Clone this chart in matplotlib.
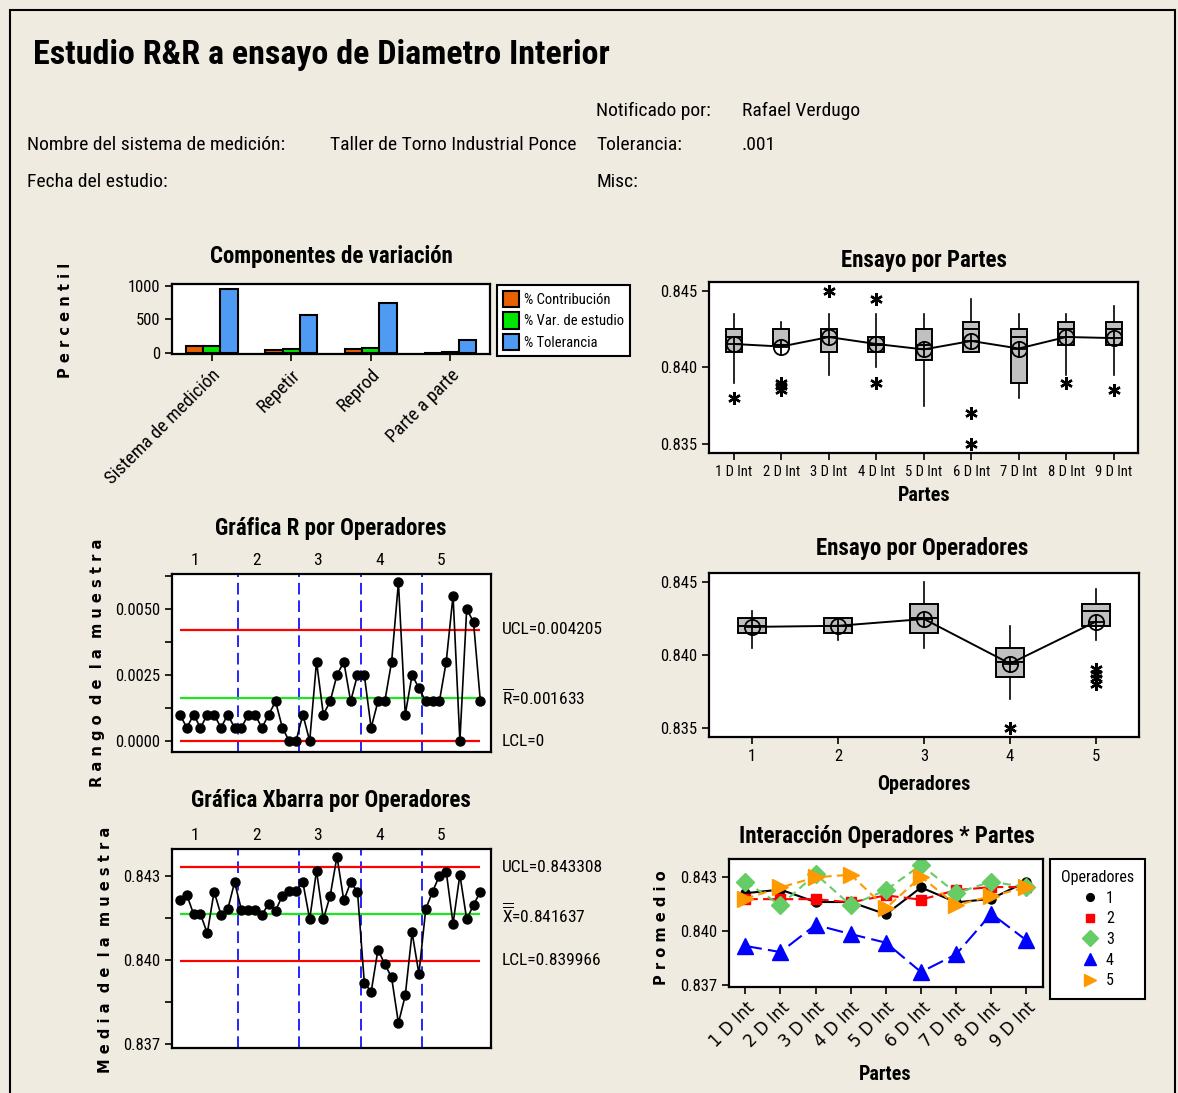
import numpy as np
import matplotlib
matplotlib.use("Agg")
import matplotlib.pyplot as plt
from matplotlib import font_manager as fm
from matplotlib.lines import Line2D
from matplotlib.patches import Patch, Rectangle

W, H = 1178, 1093
BG = "#EFEBE1"

# ---- data ----
comp_labels = ["Sistema de medición", "Repetir", "Reprod", "Parte a parte"]
pct_contrib = [100.0, 38.0, 62.0, 3.0]
pct_studyvar = [100.0, 62.0, 79.0, 17.0]
pct_tol = [955, 570, 750, 195]

part_labels = ["1 D Int", "2 D Int", "3 D Int", "4 D Int", "5 D Int",
               "6 D Int", "7 D Int", "8 D Int", "9 D Int"]
operators = ["1", "2", "3", "4", "5"]

# sample ranges, operator x part (3 readings each)
r_op1 = [0.001, 0.0005, 0.001, 0.0005, 0.001, 0.001, 0.0005, 0.001, 0.0005]
r_op2 = [0.0005, 0.001, 0.001, 0.0005, 0.001, 0.0015, 0.0005, 0.0, 0.0]
r_op3 = [0.001, 0.0, 0.003, 0.001, 0.0015, 0.0025, 0.003, 0.0015, 0.0025]
r_op4 = [0.0025, 0.0005, 0.0015, 0.0015, 0.003, 0.006, 0.001, 0.0025, 0.002]
r_op5 = [0.0015, 0.0015, 0.0015, 0.003, 0.0055, 0.0, 0.005, 0.0045, 0.0015]

# sample means, operator x part
xb_op1 = [0.84212, 0.84232, 0.84163, 0.84163, 0.84095, 0.84244, 0.84161, 0.84181, 0.84277]
xb_op2 = [0.84179, 0.84179, 0.84179, 0.84161, 0.84200, 0.84176, 0.84229, 0.84246, 0.84246]
xb_op3 = [0.84277, 0.84145, 0.84318, 0.84145, 0.84229, 0.84369, 0.84212, 0.84277, 0.84244]
xb_op4 = [0.83919, 0.83885, 0.84036, 0.83985, 0.83937, 0.83774, 0.83873, 0.84098, 0.83950]
xb_op5 = [0.84181, 0.84244, 0.84300, 0.84315, 0.84129, 0.84304, 0.84145, 0.84196, 0.84244]

R_UCL, R_BAR, R_LCL = 0.004205, 0.001633, 0.0
X_UCL, X_BAR, X_LCL = 0.843308, 0.841637, 0.839966

# box plot summaries by part
p_q1 = [0.841, 0.8415, 0.841, 0.841, 0.8405, 0.841, 0.839, 0.8415, 0.8415]
p_med = [0.842, 0.8415, 0.842, 0.8415, 0.8415, 0.8425, 0.842, 0.8425, 0.8425]
p_q3 = [0.8425, 0.8425, 0.8425, 0.842, 0.8425, 0.843, 0.8425, 0.843, 0.843]
p_wlo = [0.839, 0.8415, 0.8395, 0.840, 0.8375, 0.841, 0.838, 0.8395, 0.8395]
p_whi = [0.8435, 0.843, 0.8435, 0.8435, 0.8435, 0.8445, 0.8435, 0.8435, 0.844]
p_out = [[0.838], [0.839, 0.8388, 0.8385], [0.845], [0.8445, 0.839], [],
         [0.837, 0.835], [], [0.839], [0.8385]]

# box plot summaries by operator
o_q1 = [0.8415, 0.8415, 0.8415, 0.8385, 0.842]
o_med = [0.842, 0.842, 0.8425, 0.8395, 0.843]
o_q3 = [0.8425, 0.8425, 0.8435, 0.8405, 0.8435]
o_wlo = [0.8405, 0.841, 0.8405, 0.837, 0.841]
o_whi = [0.843, 0.8425, 0.845, 0.842, 0.8445]
o_out = [[], [], [], [0.835], [0.839, 0.8387, 0.8384, 0.838]]


def pick_font(names):
    for n in names:
        try:
            fm.findfont(fm.FontProperties(family=n), fallback_to_default=False)
            return n
        except ValueError:
            continue
    return "DejaVu Sans"


NARROW = pick_font(["Liberation Sans Narrow", "Roboto Condensed", "Liberation Sans"])
plt.rcParams.update({
    "font.family": [NARROW, "DejaVu Sans"],
    "mathtext.fontset": "custom",
    "mathtext.rm": NARROW,
    "axes.linewidth": 1.6,
    "xtick.major.width": 1.2, "ytick.major.width": 1.2,
    "ytick.minor.width": 1.2,
    "xtick.major.size": 5, "ytick.major.size": 5, "ytick.minor.size": 5,
    "xtick.labelsize": 12, "ytick.labelsize": 12,
})


def rect(l, t, r, b):
    return [l / W, 1 - b / H, (r - l) / W, (b - t) / H]


def ftext(x, y, s, **kw):
    kw.setdefault("va", "center")
    fig.text(x / W, 1 - y / H, s, **kw)


def spaced(s):
    return "  ".join(" ".join(w) for w in s.split())


fig = plt.figure(figsize=(W / 100, H / 100), dpi=100, facecolor=BG)
fig.patches.append(Rectangle((10 / W, -0.01), (1175 - 10) / W, 1.01 - 10 / H,
                             transform=fig.transFigure, fill=False, ec="k", lw=1.5))

# ---- header ----
ftext(33, 55, "Estudio R&R a ensayo de Diametro Interior", fontsize=24.5, fontweight="bold")
ftext(596, 111, "Notificado por:", fontsize=14)
ftext(742, 111, "Rafael Verdugo", fontsize=14)
ftext(27, 145, "Nombre del sistema de medición:", fontsize=14)
ftext(330, 145, "Taller de Torno Industrial Ponce", fontsize=14)
ftext(596, 145, "Tolerancia:", fontsize=14)
ftext(742, 145, ".001", fontsize=14)
ftext(27, 182, "Fecha del estudio:", fontsize=14)
ftext(596, 182, "Misc:", fontsize=14)

ylab_kw = dict(family="DejaVu Sans", fontweight="bold", fontsize=10.5, rotation=90,
               ha="center", va="center")
title_kw = dict(ha="center", fontsize=16.5, fontweight="bold")

# ---- components of variation ----
ax = fig.add_axes(rect(172, 284, 490, 354))
xc = np.arange(len(comp_labels))
series = [(pct_contrib, "#E86100", "% Contribución"),
          (pct_studyvar, "#00E600", "% Var. de estudio"),
          (pct_tol, "#4F9BF3", "% Tolerancia")]
for i, (vals, col, lab) in enumerate(series):
    ax.bar(xc + (i - 1) * 0.22, vals, 0.22, color=col, edgecolor="k", lw=1.5, label=lab)
ax.set_xlim(-0.5, 3.5)
ax.set_ylim(-15, 1025)
ax.set_yticks([0, 500, 1000])
ax.set_xticks(xc)
ax.set_xticklabels(comp_labels, rotation=45, ha="right", rotation_mode="anchor",
                   fontsize=13.5)
ftext(331, 257, "Componentes de variación", **title_kw)
ftext(65, 320, spaced("Percentil"), **ylab_kw)
leg = fig.legend(handles=[Patch(fc=c, ec="k", lw=1.5, label=l) for _, c, l in series],
                 loc="upper left", bbox_to_anchor=(497 / W, 1 - 285 / H), fontsize=10.5,
                 frameon=True, fancybox=False, edgecolor="k", framealpha=1,
                 handlelength=1.1, handleheight=1.35, borderpad=0.4, labelspacing=0.35,
                 handletextpad=0.35, borderaxespad=0)
leg.get_frame().set_linewidth(1.5)

# ---- box plot helper ----
box_kw = dict(patch_artist=True, showcaps=False, widths=0.33,
              boxprops=dict(facecolor="#C0C0C0", edgecolor="k", lw=1.4),
              medianprops=dict(color="k", lw=1.4),
              whiskerprops=dict(color="k", lw=1.2),
              flierprops=dict(marker=(6, 2, 0), ms=9, mec="k", mew=1.7, ls="none"))


def draw_boxes(ax, q1, med, q3, wlo, whi, outs, means):
    stats = [dict(q1=a, med=b, q3=c, whislo=d, whishi=e, fliers=f)
             for a, b, c, d, e, f in zip(q1, med, q3, wlo, whi, outs)]
    pos = np.arange(1, len(stats) + 1)
    ax.bxp(stats, positions=pos, **box_kw)
    ax.plot(pos, means, color="k", lw=1.4, zorder=4)
    ax.plot(pos, means, "o", ms=11, mfc="none", mec="k", mew=1.3, zorder=5)
    ax.plot(pos, means, "+", ms=11, mec="k", mew=1.3, zorder=5)
    ax.set_xticks(pos)


xb = np.array([xb_op1, xb_op2, xb_op3, xb_op4, xb_op5])
rr = np.array([r_op1, r_op2, r_op3, r_op4, r_op5])

# ---- by part ----
ax = fig.add_axes(rect(709, 282, 1138, 453))
draw_boxes(ax, p_q1, p_med, p_q3, p_wlo, p_whi, p_out, xb.mean(axis=0))
ax.set_xticklabels(part_labels, fontsize=10.5)
ax.set_xlim(0.48, 9.51)
ax.set_ylim(0.83439, 0.8456)
ax.set_yticks([0.835, 0.840, 0.845])
ax.set_yticklabels(["0.835", "0.840", "0.845"])
ftext(924, 260, "Ensayo por Partes", **title_kw)
ftext(924, 496, "Partes", ha="center", fontsize=14.5, fontweight="bold")

# ---- by operator ----
ax = fig.add_axes(rect(709, 573, 1139, 737))
draw_boxes(ax, o_q1, o_med, o_q3, o_wlo, o_whi, o_out, xb.mean(axis=1))
ax.set_xticklabels(operators)
ax.set_xlim(0.5, 5.5)
ax.set_ylim(0.83436, 0.84562)
ax.set_yticks([0.835, 0.840, 0.845])
ax.set_yticklabels(["0.835", "0.840", "0.845"])
ftext(922, 548, "Ensayo por Operadores", **title_kw)
ftext(924, 784, "Operadores", ha="center", fontsize=14.5, fontweight="bold")


# ---- control charts ----
def control_chart(ax, vals, lines, texts):
    n = vals.size
    ax.plot(np.arange(n), vals, "-o", color="k", lw=1.2, ms=6.5, zorder=5)
    for y, col in lines:
        ax.hlines(y, 0, n - 1, color=col, lw=1.6, zorder=3)
    for k in range(1, 5):
        ax.axvline(k * 9 - 0.5, color="#0000FF", lw=1.2, ls=(0, (7, 3.5)), zorder=2)
    for k, op in enumerate(operators):
        ax.annotate(op, xy=(k * 9 + 2.2, 1), xycoords=("data", "axes fraction"),
                    xytext=(0, 4), textcoords="offset points", ha="center", va="bottom",
                    fontsize=12.5)
    for (y, _), s in zip(lines, texts):
        ax.annotate(s, xy=(1, y), xycoords=("axes fraction", "data"), xytext=(8, 0),
                    textcoords="offset points", ha="left", va="center", fontsize=12.5,
                    annotation_clip=False)
    ax.set_xlim(-1.17, 45.56)
    ax.set_xticks([])


ax = fig.add_axes(rect(172, 574, 491, 752))
control_chart(ax, rr.ravel(), [(R_UCL, "#FF0000"), (R_BAR, "#1EE61E"), (R_LCL, "#FF0000")],
              [f"UCL={R_UCL:.6f}", r"$\overline{\mathrm{R}}$" + f"={R_BAR:.6f}", "LCL=0"])
ax.set_ylim(-0.000415, 0.00632)
ax.set_yticks([0, 0.0025, 0.005])
ax.set_yticklabels(["0.0000", "0.0025", "0.0050"])
ax.set_yticks([0.00125, 0.00375, 0.00625], minor=True)
ftext(331, 528, "Gráfica R por Operadores", **title_kw)
ftext(98, 663, spaced("Rango de la muestra"), **ylab_kw)

ax = fig.add_axes(rect(172, 849, 491, 1048))
control_chart(ax, xb.ravel(), [(X_UCL, "#FF0000"), (X_BAR, "#1EE61E"), (X_LCL, "#FF0000")],
              [f"UCL={X_UCL:.6f}", r"$\overline{\overline{\mathrm{X}}}$" + f"={X_BAR:.6f}",
               f"LCL={X_LCL:.6f}"])
ax.set_ylim(0.83685, 0.84396)
ax.set_yticks([0.837, 0.840, 0.843])
ax.set_yticklabels(["0.837", "0.840", "0.843"])
ax.set_yticks([0.8385, 0.8415], minor=True)
ftext(331, 801, "Gráfica Xbarra por Operadores", **title_kw)
ftext(105, 950, spaced("Media de la muestra"), **ylab_kw)

# ---- interaction ----
ax = fig.add_axes(rect(729, 859, 1043, 987))
styles = [("#000000", "o", 6.5, "-"),
          ("#FF0000", "s", 7, (0, (6, 2.5))),
          ("#66CC66", "D", 9, (0, (4, 2.5))),
          ("#0000FF", "^", 11, (0, (8, 3))),
          ("#FF9900", ">", 11, (0, (4, 2.5)))]
pp = np.arange(1, len(part_labels) + 1)
handles = []
for row, op, (col, mk, ms, ls) in zip(xb, operators, styles):
    ax.plot(pp, row, color=col, ls=ls, lw=1.5, marker=mk, ms=ms, mec=col, mfc=col)
    handles.append(Line2D([], [], ls="none", marker=mk, ms=ms * 0.85, color=col, label=op))
ax.set_xlim(0.535, 9.47)
ax.set_ylim(0.83691, 0.84402)
ax.set_yticks([0.837, 0.840, 0.843])
ax.set_yticklabels(["0.837", "0.840", "0.843"])
ax.set_xticks(pp)
ax.set_xticklabels(part_labels, rotation=45, ha="right", rotation_mode="anchor",
                   family="DejaVu Sans", fontsize=12)
ftext(887, 837, "Interacción Operadores * Partes", **title_kw)
ftext(885, 1075, "Partes", ha="center", fontsize=14.5, fontweight="bold")
ftext(662, 928, spaced("Promedio"), **ylab_kw)
leg = fig.legend(handles=handles, title="Operadores", loc="upper left",
                 bbox_to_anchor=(1050 / W, 1 - 859 / H), fontsize=11.5, title_fontsize=11.5,
                 frameon=True, fancybox=False, edgecolor="k", framealpha=1,
                 handlelength=1.0, borderpad=0.7, labelspacing=0.35, handletextpad=0.5,
                 borderaxespad=0)
leg.get_frame().set_linewidth(1.5)

fig.savefig("out.png", dpi=100, facecolor=BG)
